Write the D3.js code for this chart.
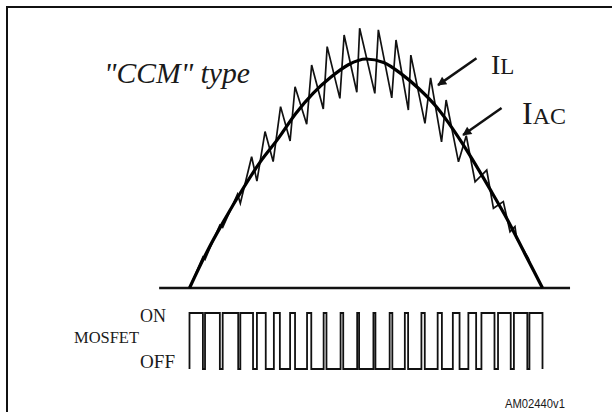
<meta charset="utf-8">

<!-- Load d3.js -->
<script src="https://cdn.jsdelivr.net/npm/d3@7"></script>

<style>
    body {
      margin: 0;
      background-color: #ffffff;
    }

    .serif {
      font-family: "Liberation Serif", "DejaVu Serif", serif;
      fill: #1a1a1a;
    }

    .sans {
      font-family: "Liberation Sans", Arial, sans-serif;
      fill: #1a1a1a;
    }
</style>

<div id="ccm"></div>

<script>
// time in ms over one half mains cycle, current in % of the IAC peak
var iacT = [0, 0.5, 1, 1.5, 2, 2.5, 3, 3.5, 4, 4.5, 5, 5.5, 6, 6.5, 7, 7.5, 8, 8.5, 9, 9.5, 10];
var iacI = [0, 16, 30, 43, 55, 65, 76, 85, 92, 97.5, 100, 98.5, 93.5, 87, 79, 68.5, 56.5, 43.5, 30, 15, 0];

// inductor current, peaks and valleys of the ripple
var ilT = [0, 0.38, 0.44, 0.86, 0.94, 1.36, 1.44, 1.76, 1.91, 2.14, 2.37, 2.58, 2.85, 2.99, 3.32, 3.46,
           3.79, 3.90, 4.26, 4.38, 4.74, 4.82, 5.25, 5.35, 5.73, 5.85, 6.20, 6.27, 6.67, 6.83, 7.14,
           7.27, 7.62, 7.84, 8.09, 8.42, 8.61, 8.89, 9.08, 9.22, 9.27, 9.60, 9.65, 10];
var ilI = [0, 13.5, 12.5, 27.5, 26.5, 41, 37, 57.3, 46.7, 68.3, 55.2, 79.2, 64.2, 87.9, 71.5, 97.4,
           78.2, 105.4, 82.8, 110.5, 85.5, 113.4, 85, 112.7, 83, 108.3, 77.7, 101.7, 71.9, 91.8, 63.8,
           82.1, 55.1, 66.5, 46.4, 51.5, 34.8, 37.7, 24.6, 26.8, 21.5, 13, 10.5, 0];

// MOSFET gate: switch-on instants and on-times (ms)
var pwmRise = [0.00, 0.44, 0.94, 1.44, 1.91, 2.39, 2.85, 3.33, 3.80, 4.28, 4.75,
               5.21, 5.67, 6.10, 6.57, 7.03, 7.46, 7.90, 8.27, 8.74, 9.19, 9.63];
var pwmOn = [0.38, 0.42, 0.44, 0.36, 0.25, 0.17, 0.14, 0.12, 0.08, 0.075, 0.055,
             0.057, 0.076, 0.093, 0.095, 0.12, 0.19, 0.22, 0.37, 0.36, 0.38, 0.37];

var stateLabels = ["OFF", "ON"];

// arrows for the labels, [t, I] of tail and tip
var arrowIL = [[8.13, 100.3], [7.04, 88.6]];
var arrowIAC = [[8.84, 78.6], [7.75, 66.8]];

var width = 612, height = 412;

var svg = d3.select("#ccm")
  .append("svg")
    .attr("width", width)
    .attr("height", height);

svg.append("defs").append("marker")
    .attr("id", "head")
    .attr("viewBox", "0 0 10 10")
    .attr("refX", 9)
    .attr("refY", 5)
    .attr("markerUnits", "userSpaceOnUse")
    .attr("markerWidth", 11)
    .attr("markerHeight", 9)
    .attr("orient", "auto")
  .append("path")
    .attr("d", "M0,0 L10,5 L0,10 Z")
    .attr("fill", "#111");

// frame
svg.append("path")
    .attr("d", "M7," + height + " V7 H" + width)
    .attr("fill", "none")
    .attr("stroke", "#111")
    .attr("stroke-width", 2);

var x = d3.scaleLinear()
  .domain([0, 10])
  .range([189.5, 542.5]);

var y = d3.scaleLinear()
  .domain([0, 100])
  .range([288, 59]);

var yGate = d3.scaleBand()
  .domain(stateLabels)
  .range([369, 313])
  .paddingInner(1)
  .paddingOuter(0);

// zero line
svg.append("line")
    .attr("x1", x(-0.86))
    .attr("x2", x(10.78))
    .attr("y1", y(0))
    .attr("y2", y(0))
    .attr("stroke", "#111")
    .attr("stroke-width", 2.5);

var il = ilT.map(function(t, i) { return [t, ilI[i]]; });
var iac = iacT.map(function(t, i) { return [t, iacI[i]]; });

svg.append("path")
    .datum(il)
    .attr("fill", "none")
    .attr("stroke", "#111")
    .attr("stroke-width", 1.7)
    .attr("stroke-linejoin", "miter")
    .attr("d", d3.line().x(d => x(d[0])).y(d => y(d[1])));

svg.append("path")
    .datum(iac)
    .attr("fill", "none")
    .attr("stroke", "#000")
    .attr("stroke-width", 3.2)
    .attr("d", d3.line().x(d => x(d[0])).y(d => y(d[1])).curve(d3.curveMonotoneX));

// gate signal as a step line
var gate = [];
pwmRise.forEach(function(t, i) {
  gate.push([t, "OFF"], [t, "ON"], [t + pwmOn[i], "ON"], [t + pwmOn[i], "OFF"]);
});

svg.append("path")
    .datum(gate)
    .attr("fill", "none")
    .attr("stroke", "#111")
    .attr("stroke-width", 1.8)
    .attr("d", d3.line().x(d => x(d[0])).y(d => yGate(d[1])));

// arrows
[arrowIL, arrowIAC].forEach(function(a) {
  svg.append("line")
      .attr("x1", x(a[0][0]))
      .attr("y1", y(a[0][1]))
      .attr("x2", x(a[1][0]))
      .attr("y2", y(a[1][1]))
      .attr("stroke", "#111")
      .attr("stroke-width", 2.5)
      .attr("marker-end", "url(#head)");
});

// labels
svg.append("text")
    .attr("class", "serif")
    .attr("x", 104)
    .attr("y", 83)
    .attr("font-size", 29)
    .attr("font-style", "italic")
    .attr("textLength", 146)
    .attr("lengthAdjust", "spacingAndGlyphs")
    .text("\"CCM\" type");

var tIL = svg.append("text")
    .attr("class", "serif")
    .attr("x", 491)
    .attr("y", 74);
tIL.append("tspan").attr("font-size", 28).text("I");
tIL.append("tspan").attr("font-size", 23).text("L");

var tIAC = svg.append("text")
    .attr("class", "serif")
    .attr("x", 522)
    .attr("y", 124);
tIAC.append("tspan").attr("font-size", 32).text("I");
tIAC.append("tspan").attr("font-size", 24).text("AC");

svg.append("text")
    .attr("class", "serif")
    .attr("x", 140)
    .attr("y", 322)
    .attr("font-size", 18)
    .text("ON");

svg.append("text")
    .attr("class", "serif")
    .attr("x", 74)
    .attr("y", 343)
    .attr("font-size", 16)
    .attr("textLength", 65)
    .attr("lengthAdjust", "spacingAndGlyphs")
    .text("MOSFET");

svg.append("text")
    .attr("class", "serif")
    .attr("x", 140)
    .attr("y", 368)
    .attr("font-size", 18)
    .attr("textLength", 35)
    .attr("lengthAdjust", "spacingAndGlyphs")
    .text("OFF");

svg.append("text")
    .attr("class", "sans")
    .attr("x", 505)
    .attr("y", 408)
    .attr("font-size", 13)
    .attr("textLength", 60)
    .attr("lengthAdjust", "spacingAndGlyphs")
    .text("AM02440v1");
</script>
